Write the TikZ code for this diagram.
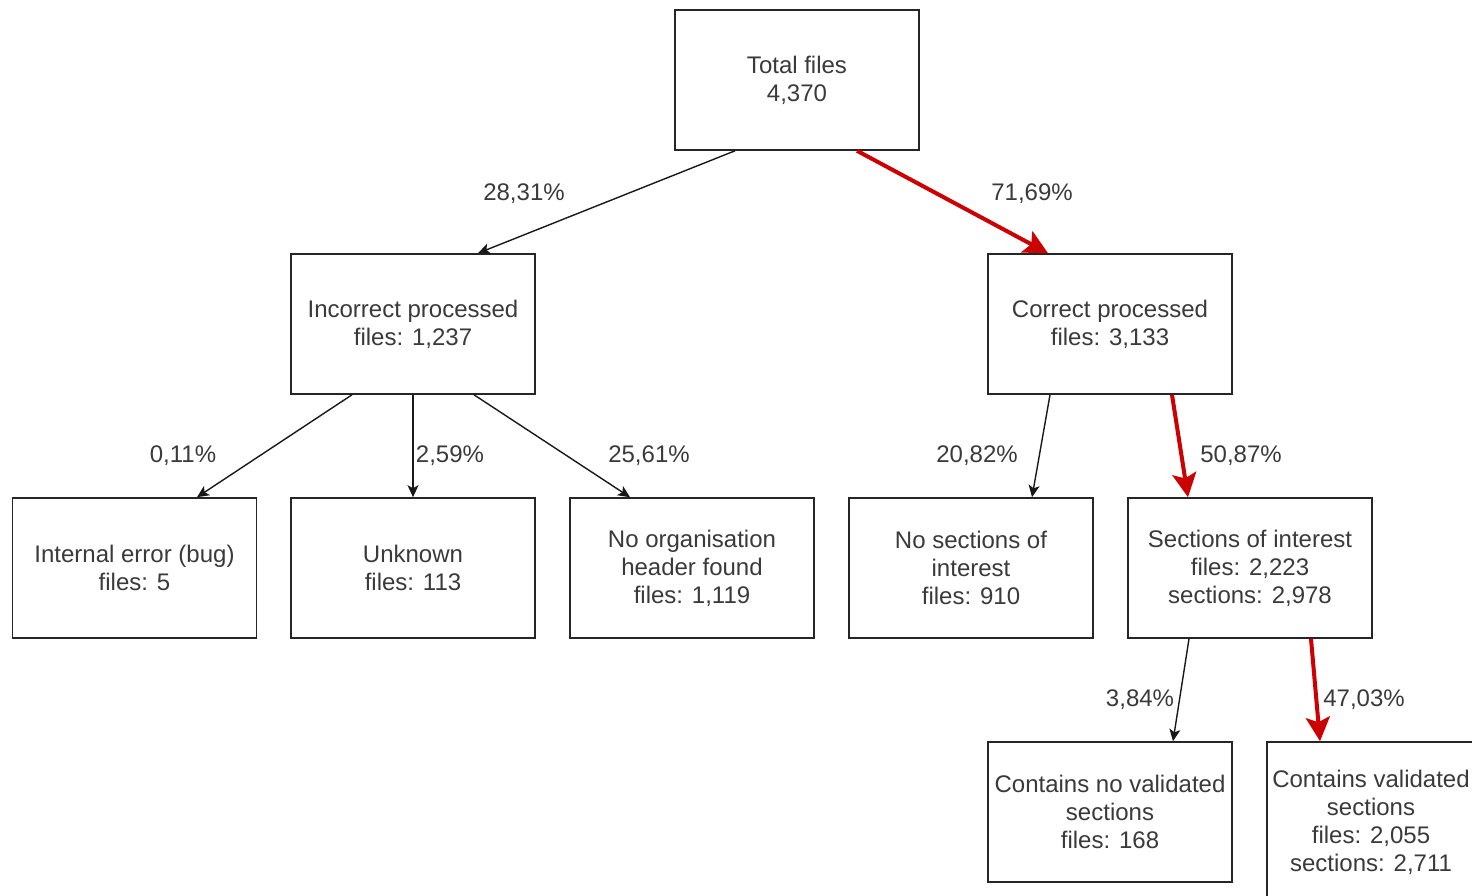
\documentclass[tikz,border=0pt]{standalone}
\usepackage{fontspec}
\setmainfont{Liberation Sans}
\usetikzlibrary{arrows.meta}
\definecolor{txt}{HTML}{3A3A3A}
\definecolor{hot}{HTML}{CC0000}
\begin{document}
\begin{tikzpicture}[x=1pt,y=-1pt,
  box/.style={draw=black!85, line width=1.6pt, rectangle, inner sep=0pt,
    minimum width=244pt, minimum height=140pt, align=center,
    text=txt, font=\fontsize{24pt}{28pt}\selectfont},
  pct/.style={text=txt, inner sep=0pt, font=\fontsize{24pt}{28pt}\selectfont},
  thin/.style={draw=black!90, line width=1.4pt, -{Stealth[length=12pt,width=11pt,inset=3pt]}},
  hotpath/.style={draw=hot, line width=4pt, -{Stealth[length=24pt,width=24pt,inset=5pt]}}]
  \path[use as bounding box, clip] (0,0) rectangle (1472,896);
  \fill[white] (0,0) rectangle (1472,896);

  % boxes
  \node[box] (tot) at (797,80) {Total files\\4,370};
  \node[box] (inc) at (413,324) {Incorrect processed\\files: 1,237};
  \node[box] (cor) at (1110,324) {Correct processed\\files: 3,133};
  \node[box] (ie)  at (134.5,568) {Internal error (bug)\\files: 5};
  \node[box] (unk) at (413,568) {Unknown\\files: 113};
  \node[box] (noo) at (692,568) {No organisation\\header found\\files: 1,119};
  \node[box] (nos) at (971,568) {No sections of\\interest\\files: 910};
  \node[box] (soi) at (1250,568) {Sections of interest\\files: 2,223\\sections: 2,978};
  \node[box] (cnv) at (1110,812) {Contains no validated\\sections\\files: 168};
  \node[box, minimum width=208pt, minimum height=160pt] (cv) at (1371,822)
    {Contains validated\\sections\\files: 2,055\\sections: 2,711};

  % connectors
  \draw[thin] ([xshift=-62pt]tot.south) -- ([xshift=65pt]inc.north);
  \draw[hotpath] ([xshift=60pt]tot.south) -- ([xshift=-62pt]cor.north);
  \draw[thin] ([xshift=-61pt]inc.south) -- ([xshift=62.5pt]ie.north);
  \draw[thin] (inc.south) -- (unk.north);
  \draw[thin] ([xshift=61pt]inc.south) -- ([xshift=-62pt]noo.north);
  \draw[thin] ([xshift=-60pt]cor.south) -- ([xshift=61pt]nos.north);
  \draw[hotpath] ([xshift=62pt]cor.south) -- ([xshift=-62pt]soi.north);
  \draw[thin] ([xshift=-61pt]soi.south) -- ([xshift=63pt]cnv.north);
  \draw[hotpath] ([xshift=61pt]soi.south) -- ([xshift=-51pt]cv.north);

  % percentages
  \node[pct] (p1) at (524,194) {28,31\%};
  \node[pct] (p2) at (1032,194) {71,69\%};
  \node[pct] (p3) at (183,456) {0,11\%};
  \node[pct] (p4) at (450,456) {2,59\%};
  \node[pct] (p5) at (649,456) {25,61\%};
  \node[pct] (p6) at (977,456) {20,82\%};
  \node[pct] (p7) at (1241,456) {50,87\%};
  \node[pct] (p8) at (1140,700) {3,84\%};
  \node[pct] (p9) at (1364,700) {47,03\%};
\end{tikzpicture}
\end{document}
